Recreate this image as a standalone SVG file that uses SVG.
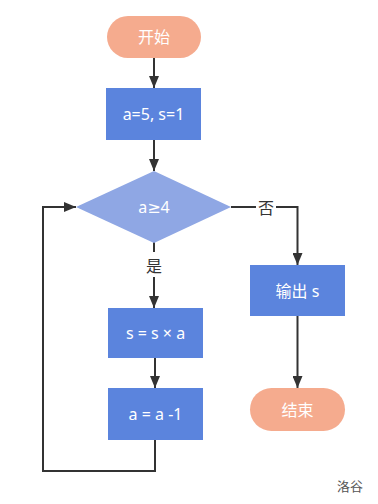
<svg xmlns="http://www.w3.org/2000/svg" width="378" height="504" viewBox="0 0 378 504">
<defs>
<style>
.term{fill:#F5AB8E;}
.proc{fill:#5B84DD;}
.dec{fill:#8FA7E4;}
.lbl{fill:#ffffff;font-family:"Noto Sans","DejaVu Sans","Noto Sans CJK SC",sans-serif;font-size:16px;text-anchor:middle;dominant-baseline:central;}
.edge{fill:none;stroke:#333333;stroke-width:2;}
.elbl{fill:#333333;font-family:"Noto Sans CJK SC",sans-serif;font-size:16px;text-anchor:middle;dominant-baseline:central;}
</style>
<marker id="arr" viewBox="0 0 12 10" refX="12" refY="5" markerWidth="12" markerHeight="10" orient="auto" markerUnits="userSpaceOnUse">
<path d="M0,0 L12,5 L0,10 z" fill="#333333"/>
</marker>
</defs>
<rect width="378" height="504" fill="#ffffff"/>
<g id="connectors">
<path class="edge" d="M154,58 V88" marker-end="url(#arr)"/>
<path class="edge" d="M154,140 V171" marker-end="url(#arr)"/>
<path class="edge" d="M154,242 V252"/>
<path class="edge" d="M154,277 V308" marker-end="url(#arr)"/>
<path class="edge" d="M155,358 V388" marker-end="url(#arr)"/>
<path class="edge" d="M155,440 V471 H43 V207 H76" marker-end="url(#arr)"/>
<path class="edge" d="M231,207 H256"/>
<path class="edge" d="M276,207 H297.5 V265" marker-end="url(#arr)"/>
<path class="edge" d="M297.5,316 V388" marker-end="url(#arr)"/>
<text class="elbl" x="154" y="265">是</text>
<text class="elbl" x="266" y="207">否</text>
</g>
<g id="start"><rect class="term" x="107" y="16" width="94" height="42" rx="21"/><text class="lbl" x="154" y="37">开始</text></g>
<g id="init"><rect class="proc" x="106" y="88" width="95" height="52"/><text class="lbl" x="153.5" y="114">a=5, s=1</text></g>
<g id="cond"><polygon class="dec" points="154,171 231,207 154,243 76,207"/><text class="lbl" x="154" y="207">a≥4</text></g>
<g id="mult"><rect class="proc" x="108" y="308" width="95" height="50"/><text class="lbl" x="155.5" y="333">s = s × a</text></g>
<g id="dec"><rect class="proc" x="108" y="388" width="95" height="52"/><text class="lbl" x="155.5" y="414">a = a -1</text></g>
<g id="out"><rect class="proc" x="250" y="265" width="95" height="51"/><text class="lbl" x="297.5" y="290.5">输出 s</text></g>
<g id="end"><rect class="term" x="250" y="388" width="95" height="43" rx="21.5"/><text class="lbl" x="297.5" y="409.5">结束</text></g>
<text x="350" y="485" fill="#555555" font-family="Noto Sans CJK SC,sans-serif" font-size="13" text-anchor="middle" dominant-baseline="central">洛谷</text>
</svg>
